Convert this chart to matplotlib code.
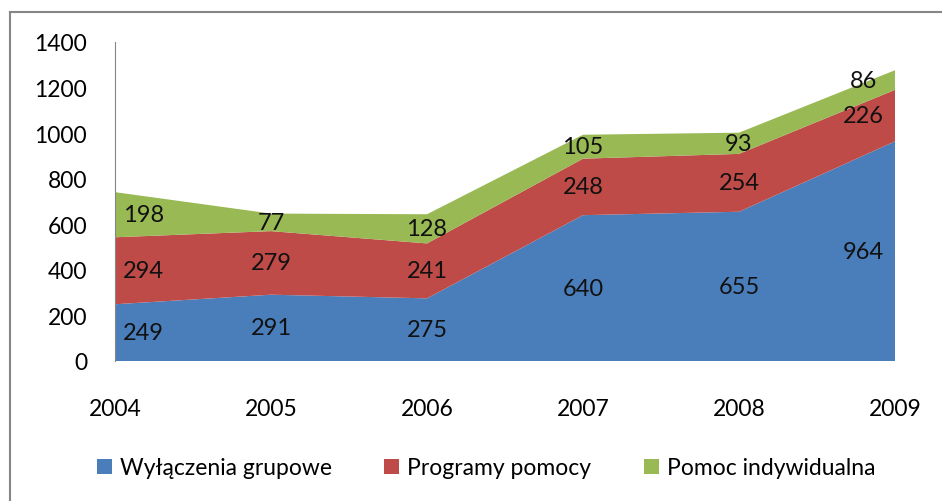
import matplotlib
matplotlib.use("Agg")
import matplotlib.pyplot as plt
from matplotlib.lines import Line2D

years = [2004, 2005, 2006, 2007, 2008, 2009]
grupowe = [249, 291, 275, 640, 655, 964]
programy = [294, 279, 241, 248, 254, 226]
indywidualna = [198, 77, 128, 105, 93, 86]
series_names = ["Wyłączenia grupowe", "Programy pomocy", "Pomoc indywidualna"]
colors = ["#4A7EBB", "#BE4B48", "#98B954"]

plt.rcParams["font.family"] = ["Lato", "DejaVu Sans"]

fig = plt.figure(figsize=(9.42, 5.02), dpi=100)
ax = fig.add_axes([115 / 942, 1 - 362 / 502, 780 / 942, 319 / 502])

series = [grupowe, programy, indywidualna]
ax.stackplot(years, *series, colors=colors, labels=series_names)

# labels in the middle of each band, pulled inward at both ends
base = [0] * len(years)
for vals in series:
    for i, (y, b, v) in enumerate(zip(years, base, vals)):
        x = y
        if i == 0:
            x = y + 0.18
        elif i == len(years) - 1:
            x = y - 0.2
        ax.text(x, b + v / 2, str(v), ha="center", va="center",
                fontsize=17, color="#111111")
    base = [b + v for b, v in zip(base, vals)]

ax.set_xlim(2004, 2009)
ax.set_ylim(0, 1400)
ax.set_yticks(range(0, 1401, 200))
ax.set_xticks(years)
ax.tick_params(axis="y", length=0, pad=20, labelsize=16.5)
ax.tick_params(axis="x", length=0, pad=27, labelsize=16.5)
for s in ["top", "right", "bottom"]:
    ax.spines[s].set_visible(False)
ax.spines["left"].set_color("#868686")

handles, labels = ax.get_legend_handles_labels()
fig.legend(handles, labels, loc="center", bbox_to_anchor=(486 / 942, 1 - 469 / 502),
           ncol=3, frameon=False, fontsize=16.5, handlelength=0.65, handleheight=0.65,
           handletextpad=0.35, columnspacing=2.3)

# outer frame: only left and top edges show
x0, y1 = 10 / 942, 1 - 13 / 502
fig.lines.append(Line2D([x0, x0], [0, y1], transform=fig.transFigure,
                        color="#868686", linewidth=1.5))
fig.lines.append(Line2D([x0, 1], [y1, y1], transform=fig.transFigure,
                        color="#868686", linewidth=1.5))

fig.savefig("out.png", dpi=100)
